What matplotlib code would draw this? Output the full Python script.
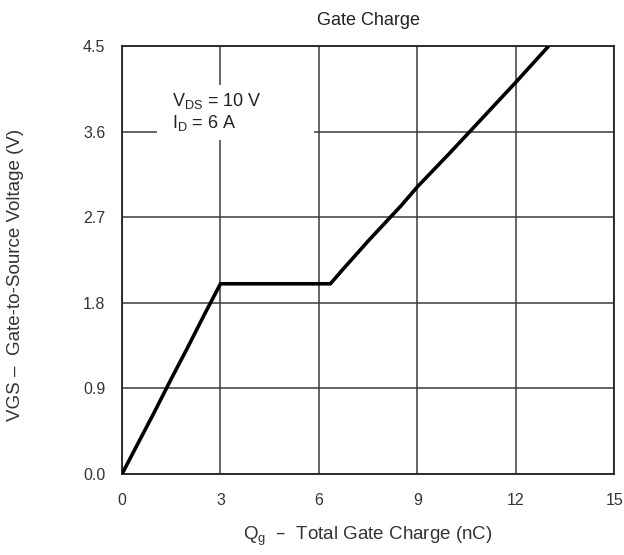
import matplotlib
matplotlib.use("Agg")
import matplotlib.pyplot as plt
from matplotlib.patches import Rectangle

plt.rcParams['font.family'] = ['Liberation Sans', 'DejaVu Sans']
plt.rcParams['mathtext.default'] = 'regular'

# gate charge curve (nC, V)
qg = [0.0, 0.5, 1.0, 1.5, 2.0, 2.5, 3.0, 4.0, 5.0, 6.0, 6.35, 6.7, 7.5, 8.5, 9.0, 10.0, 11.0, 12.0, 13.0]
vgs = [0.0, 0.33, 0.66, 1.0, 1.33, 1.67, 2.0, 2.0, 2.0, 2.0, 2.0, 2.14, 2.45, 2.82, 3.02, 3.38, 3.75, 4.12, 4.5]

xticks = [0, 3, 6, 9, 12, 15]
yticks = [0.0, 0.9, 1.8, 2.7, 3.6, 4.5]

fig = plt.figure(figsize=(6.24, 5.55), dpi=100)
ax = fig.add_axes([0.1955, 0.146, 0.789, 0.771])

ax.plot(qg, vgs, color='black', lw=2.6, solid_capstyle='butt', zorder=3)

ax.set_xlim(0, 15)
ax.set_ylim(0, 4.5)
ax.set_xticks(xticks)
ax.set_yticks(yticks)
ax.set_yticklabels(['%.1f' % v for v in yticks])
ax.tick_params(length=0, labelsize=11.5, colors='#333333')
ax.tick_params(axis='x', pad=14)
ax.tick_params(axis='y', pad=12)
ax.grid(True, color='#3a3a3a', lw=1.1)
ax.set_axisbelow(True)
for s in ax.spines.values():
    s.set_color('#222222')
    s.set_linewidth(1.3)

# white box behind the test conditions, hides the grid there
ax.add_patch(Rectangle((1.07, 3.51), 4.77, 0.58, facecolor='white', edgecolor='none', zorder=1.5))
ax.text(1.53, 3.92, 'V$_{DS}$ = 10 V', fontsize=13, color='#222222', va='center', ha='left', zorder=2)
ax.text(1.53, 3.69, 'I$_D$ = 6 A', fontsize=13, color='#222222', va='center', ha='left', zorder=2)

ax.set_title('Gate Charge', fontsize=13, color='#222222', pad=15)
ax.set_xlabel('Q$_g$  \u2013  Total Gate Charge (nC)', fontsize=13.5, color='#333333', labelpad=12)
ax.set_ylabel('VGS \u2013  Gate-to-Source Voltage (V)', fontsize=13.5, color='#333333')
ax.yaxis.set_label_coords(-0.20, 0.465)

fig.savefig('out.png', dpi=100)
